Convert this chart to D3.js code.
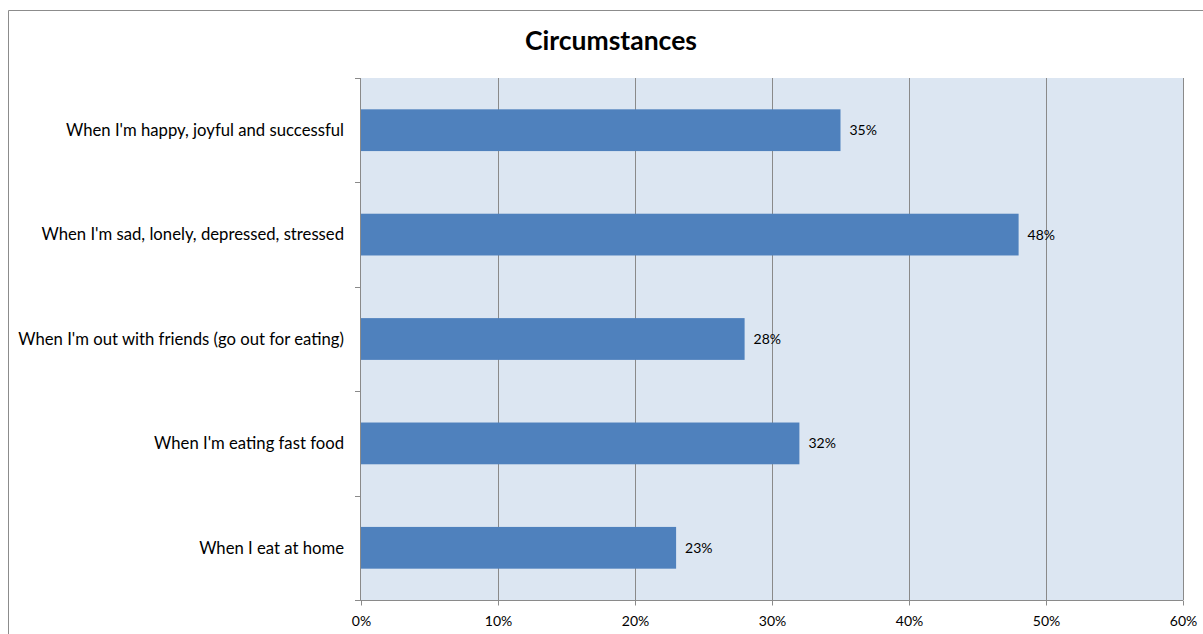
<!DOCTYPE html>
<html><head><meta charset="utf-8">
<script src="https://cdn.jsdelivr.net/npm/d3@7"></script>
<style>body{margin:0;background:#fff}svg{display:block}</style>
</head><body>
<svg id="c" width="1203" height="634"></svg>
<script>
const categories = ["When I'm happy, joyful and successful","When I'm sad, lonely, depressed, stressed","When I'm out with friends (go out for eating)","When I'm eating fast food","When I eat at home"];
const values = [0.35, 0.48, 0.28, 0.32, 0.23];
const xTicks = [0, 0.1, 0.2, 0.3, 0.4, 0.5, 0.6];
const title = "Circumstances";

const svg = d3.select("#c");
const font = "Lato, 'Open Sans', sans-serif";
const L = 361, R = 1183, T = 78, B = 600;

// outer border
svg.append("path").attr("d","M8.5,634 V10.5 H1203").attr("fill","none").attr("stroke","#8c8c8c").attr("stroke-width",1);

const x = d3.scaleLinear().domain([0,0.6]).range([L,R]);
const y = d3.scaleBand().domain(categories).range([T,B]).paddingInner(0.6).paddingOuter(0.3);

svg.append("rect").attr("x",L).attr("y",T).attr("width",R-L).attr("height",B-T).attr("fill","#dce6f2");

// grid
svg.append("g").selectAll("line").data(xTicks.slice(1)).join("line")
  .attr("x1",d=>Math.round(x(d))+0.5).attr("x2",d=>Math.round(x(d))+0.5)
  .attr("y1",T).attr("y2",B).attr("stroke","#8a8a8a").attr("stroke-width",1);

// bars
svg.append("g").selectAll("rect").data(values).join("rect")
  .attr("x",L).attr("y",(d,i)=>y(categories[i])).attr("height",y.bandwidth())
  .attr("width",d=>x(d)-L).attr("fill","#4f81bd");

// value labels
svg.append("g").selectAll("text").data(values).join("text")
  .attr("x",d=>x(d)+9).attr("y",(d,i)=>y(categories[i])+y.bandwidth()/2)
  .attr("dy","0.35em").attr("font-family",font).attr("font-size",14).attr("fill","#000")
  .text(d=>d3.format(".0%")(d));

// x axis
const xa = svg.append("g").attr("transform",`translate(0,${B+0.5})`)
  .call(d3.axisBottom(x).tickValues(xTicks).tickFormat(d3.format(".0%")).tickSize(5).tickPadding(11).tickSizeOuter(0));
xa.select(".domain").attr("stroke","#8a8a8a").attr("d",`M${L-6},0H${R}`);
xa.selectAll(".tick line").attr("stroke","#8a8a8a");
xa.selectAll("text").attr("font-family",font).attr("font-size",14).attr("fill","#000");

// y axis
const step = (B-T)/categories.length;
const ya = svg.append("g");
ya.append("line").attr("x1",L-0.5).attr("x2",L-0.5).attr("y1",T).attr("y2",B).attr("stroke","#8a8a8a");
ya.selectAll("line.t").data(d3.range(categories.length+1)).join("line").attr("class","t")
  .attr("x1",L-6).attr("x2",L).attr("y1",i=>Math.round(T+i*step)+0.5).attr("y2",i=>Math.round(T+i*step)+0.5)
  .attr("stroke","#8a8a8a");
ya.selectAll("text").data(categories).join("text")
  .attr("x",344).attr("y",d=>y(d)+y.bandwidth()/2).attr("dy","0.35em")
  .attr("text-anchor","end").attr("font-family",font).attr("font-size",16.7).attr("fill","#000").text(d=>d);

// right border of plot
svg.append("line").attr("x1",R+0.5).attr("x2",R+0.5).attr("y1",T).attr("y2",B).attr("stroke","#8a8a8a");

svg.append("text").attr("x",611).attr("y",50).attr("text-anchor","middle")
  .attr("font-family",font).attr("font-weight","bold").attr("font-size",26.5).attr("fill","#000").text(title);
</script>
</body></html>
